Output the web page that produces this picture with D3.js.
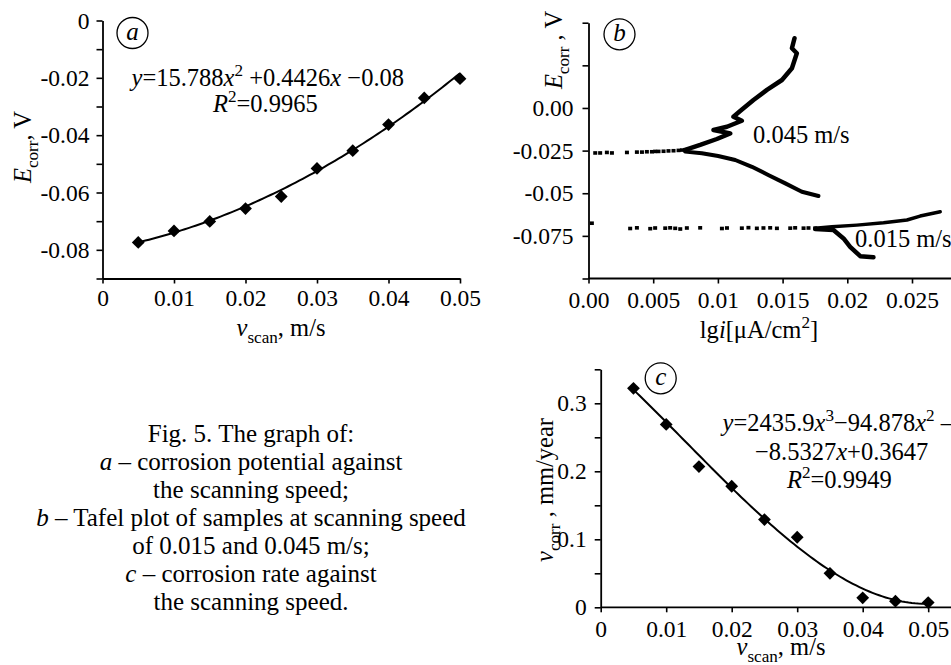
<!DOCTYPE html>
<html>
<head>
<meta charset="utf-8">
<script src="https://cdn.jsdelivr.net/npm/d3@7"></script>
<style>
body { margin: 0; background: #fff; }
svg { display: block; }
text { font-family: "Liberation Serif", "Times New Roman", serif; fill: #000; }
</style>
</head>
<body>
<svg id="fig" width="951" height="665"></svg>
<script>
// panel a and c: scanning speed, m/s
var scanSpeed = [0.005, 0.01, 0.015, 0.02, 0.025, 0.03, 0.035, 0.04, 0.045, 0.05];
var corrPotential = [-0.0774, -0.0734, -0.0701, -0.0656, -0.0614, -0.0516, -0.0454, -0.0363, -0.0270, -0.0203];
var corrRate = [0.322, 0.269, 0.207, 0.178, 0.129, 0.103, 0.050, 0.014, 0.009, 0.007];

// trend line coefficients, highest power first (as printed on the chart)
var fitPotential = [15.788, 0.4426, -0.08];
var fitRate = [2435.9, -94.878, -8.5327, 0.3647];

// panel b: Tafel plot, [lg i, E]
var tafel045Dots = [[0.00052, -0.0265], [0.0009, -0.0265], [0.00142, -0.0262], [0.00181, -0.0265], [0.00297, -0.0262],
  [0.00374, -0.026], [0.00413, -0.026], [0.00451, -0.0258], [0.0049, -0.0258], [0.00515, -0.0256], [0.00541, -0.0256],
  [0.0058, -0.0255], [0.00618, -0.0253], [0.00657, -0.0252], [0.00696, -0.025], [0.00722, -0.0248], [0.00747, -0.0246]];
var tafel045Upper = [[0.00747, -0.0246], [0.00863, -0.0217], [0.00992, -0.0182], [0.01095, -0.0149], [0.00966, -0.0129],
  [0.0107, -0.011], [0.01185, -0.0075], [0.0112, -0.0051], [0.01172, -0.0018], [0.01275, 0.0047], [0.01379, 0.0106],
  [0.01495, 0.0164], [0.01572, 0.0233], [0.0161, 0.0321], [0.01572, 0.035], [0.01592, 0.0409]];
var tafel045Lower = [[0.00747, -0.0256], [0.00876, -0.0266], [0.01002, -0.0282], [0.01134, -0.0305], [0.01263, -0.0345],
  [0.01389, -0.0393], [0.01521, -0.0442], [0.01649, -0.0491], [0.01777, -0.0516]];
var tafel015Dots = [[0.00026, -0.0677], [0.00322, -0.0708], [0.00374, -0.0704], [0.00477, -0.0709], [0.00515, -0.0705],
  [0.00593, -0.0706], [0.00631, -0.0704], [0.0067, -0.0707], [0.00709, -0.0711], [0.0076, -0.0705], [0.00863, -0.0704],
  [0.01031, -0.0708], [0.0107, -0.0705], [0.01185, -0.0706], [0.01236, -0.0703], [0.01301, -0.0707], [0.01352, -0.0705],
  [0.01404, -0.0704], [0.01456, -0.0707], [0.01559, -0.0706], [0.01597, -0.0704], [0.01662, -0.0706], [0.017, -0.0705],
  [0.01752, -0.0706]];
var tafel015Upper = [[0.01752, -0.0706], [0.01881, -0.0697], [0.02074, -0.0687], [0.0228, -0.0673], [0.02461, -0.0657],
  [0.02563, -0.0634], [0.02718, -0.0609]];
var tafel015Lower = [[0.01752, -0.071], [0.01893, -0.0716], [0.01971, -0.0765], [0.02022, -0.0814], [0.021, -0.0869],
  [0.02202, -0.0876]];

// ticks and labels
var ticksA_x = [0, 0.01, 0.02, 0.03, 0.04, 0.05];
var labelsA_x = ['0', '0.01', '0.02', '0.03', '0.04', '0.05'];
var ticksA_y = [0, -0.01, -0.02, -0.03, -0.04, -0.05, -0.06, -0.07, -0.08, -0.09];
var labelsA_y = ['0', '', '-0.02', '', '-0.04', '', '-0.06', '', '-0.08', ''];
var ticksB_x = [0, 0.005, 0.01, 0.015, 0.02, 0.025];
var labelsB_x = ['0.00', '0.005', '0.01', '0.015', '0.02', '0.025'];
var ticksB_y = [0.05, 0.025, 0, -0.025, -0.05, -0.075, -0.1];
var labelsB_y = ['', '', '0.00', '-0.025', '-0.05', '-0.075', ''];
var ticksC_x = [0, 0.01, 0.02, 0.03, 0.04, 0.05];
var labelsC_x = ['0', '0.01', '0.02', '0.03', '0.04', '0.05'];
var ticksC_y = [0, 0.05, 0.1, 0.15, 0.2, 0.25, 0.3, 0.35];
var labelsC_y = ['0', '', '0.1', '', '0.2', '', '0.3', ''];

var caption = [
  [{t: 'Fig. 5. The graph of:'}],
  [{t: 'a', it: true}, {t: ' \u2013 corrosion potential against'}],
  [{t: 'the scanning speed;'}],
  [{t: 'b', it: true}, {t: ' \u2013 Tafel plot of samples at scanning speed'}],
  [{t: 'of 0.015 and 0.045 m/s;'}],
  [{t: 'c', it: true}, {t: ' \u2013 corrosion rate against'}],
  [{t: 'the scanning speed.'}]
];

var svg = d3.select('#fig');
var tickSize = 23.5;
var textSize = 24.5;

var polyval = function(c, x) {
  return c.reduce(function(acc, k) { return acc * x + k; }, 0);
};

var rich = function(g, x, y, parts, size, anchor, rotate) {
  var t = g.append('text')
    .attr('x', x)
    .attr('y', y)
    .attr('font-size', size)
    .attr('text-anchor', anchor || 'start');
  if (rotate) {
    t.attr('transform', 'rotate(-90,' + x + ',' + y + ')');
  }
  var shift = 0;
  parts.forEach(function(p) {
    var s = t.append('tspan').text(p.t);
    var target = p.sub ? size * 0.3 : (p.sup ? -size * 0.4 : 0);
    if (target !== shift) {
      s.attr('dy', target - shift);
      shift = target;
    }
    if (p.sub || p.sup) s.attr('font-size', size * 0.7);
    if (p.it) s.attr('font-style', 'italic');
  });
  return t;
};

var styleAxis = function(g) {
  g.select('.domain').attr('stroke', '#000').attr('stroke-width', 1.8);
  g.selectAll('.tick line').attr('stroke', '#000').attr('stroke-width', 1.6);
  g.selectAll('.tick text')
    .attr('font-family', '"Liberation Serif", "Times New Roman", serif')
    .attr('font-size', tickSize)
    .attr('fill', '#000');
};

var circleLabel = function(cx, cy, letter) {
  svg.append('circle')
    .attr('cx', cx)
    .attr('cy', cy)
    .attr('r', 15.5)
    .attr('fill', 'none')
    .attr('stroke', '#000')
    .attr('stroke-width', 1.3);
  svg.append('text')
    .attr('x', cx)
    .attr('y', cy + 7)
    .attr('text-anchor', 'middle')
    .attr('font-size', 25)
    .attr('font-style', 'italic')
    .text(letter);
};

var diamond = d3.symbol(d3.symbolSquare, 82);

// ---------- panel a ----------
var drawPanelA = function() {
  var x = d3.scaleLinear().domain([0, 0.05]).range([102.5, 460]);
  var y = d3.scaleLinear().domain([-0.09, 0]).range([278.5, 20.5]);

  svg.append('g')
    .attr('transform', 'translate(0,' + y(-0.09) + ')')
    .call(d3.axisBottom(x).tickValues(ticksA_x).tickSize(5).tickPadding(6).tickSizeOuter(0)
      .tickFormat(function(d, i) { return labelsA_x[i]; }))
    .call(styleAxis);

  svg.append('g')
    .attr('transform', 'translate(' + x(0) + ',0)')
    .call(d3.axisLeft(y).tickValues(ticksA_y).tickSize(6).tickPadding(7).tickSizeOuter(0)
      .tickFormat(function(d, i) { return labelsA_y[i]; }))
    .call(styleAxis);

  var fit = d3.range(0.005, 0.05001, 0.0005).map(function(v) { return [v, polyval(fitPotential, v)]; });
  svg.append('path')
    .datum(fit)
    .attr('fill', 'none')
    .attr('stroke', '#000')
    .attr('stroke-width', 2)
    .attr('d', d3.line().x(function(d) { return x(d[0]); }).y(function(d) { return y(d[1]); }));

  svg.selectAll('.ptA')
    .data(scanSpeed)
    .enter().append('path')
    .attr('class', 'ptA')
    .attr('d', diamond)
    .attr('fill', '#000')
    .attr('transform', function(d, i) { return 'translate(' + x(d) + ',' + y(corrPotential[i]) + ') rotate(45)'; });

  circleLabel(132.5, 33, 'a');

  rich(svg, 131.5, 86, [{t: 'y', it: true}, {t: '=15.788'}, {t: 'x', it: true}, {t: '2', sup: true},
    {t: ' +0.4426'}, {t: 'x', it: true}, {t: ' \u22120.08'}], textSize);
  rich(svg, 213, 112, [{t: 'R', it: true}, {t: '2', sup: true}, {t: '=0.9965'}], textSize);

  rich(svg, 31, 147, [{t: 'E', it: true}, {t: 'corr', sub: true}, {t: ', V'}], textSize, 'middle', true);
  rich(svg, 281, 336, [{t: 'v', it: true}, {t: 'scan', sub: true}, {t: ', m/s'}], textSize, 'middle');
};

// ---------- panel b ----------
var drawPanelB = function() {
  var x = d3.scaleLinear().domain([0, 0.005]).range([588.5, 653.2]);
  var y = d3.scaleLinear().domain([-0.1, 0.05]).range([278.5, 22.7]);

  svg.append('g')
    .attr('transform', 'translate(0,' + y(-0.1) + ')')
    .call(d3.axisBottom(x).tickValues(ticksB_x).tickSize(5).tickPadding(8).tickSizeOuter(0)
      .tickFormat(function(d, i) { return labelsB_x[i]; }))
    .call(styleAxis)
    .select('.domain').attr('d', 'M' + x(0) + ',0H951');

  svg.append('g')
    .attr('transform', 'translate(' + x(0) + ',0)')
    .call(d3.axisLeft(y).tickValues(ticksB_y).tickSize(6).tickPadding(9).tickSizeOuter(0)
      .tickFormat(function(d, i) { return labelsB_y[i]; }))
    .call(styleAxis);

  var line = d3.line().x(function(d) { return x(d[0]); }).y(function(d) { return y(d[1]); });
  var branch = function(data, w) {
    svg.append('path')
      .datum(data)
      .attr('fill', 'none')
      .attr('stroke', '#000')
      .attr('stroke-width', w)
      .attr('stroke-linejoin', 'round')
      .attr('stroke-linecap', 'round')
      .attr('d', line);
  };
  branch(tafel045Upper, 4.5);
  branch(tafel045Lower, 4);
  branch(tafel015Upper, 3.5);
  branch(tafel015Lower, 4.5);

  var dots = tafel045Dots.concat(tafel015Dots);
  svg.selectAll('.ptB')
    .data(dots)
    .enter().append('rect')
    .attr('class', 'ptB')
    .attr('x', function(d) { return x(d[0]) - 2; })
    .attr('y', function(d) { return y(d[1]) - 2; })
    .attr('width', 4)
    .attr('height', 3.6)
    .attr('fill', '#000');

  circleLabel(619.5, 34.3, 'b');

  rich(svg, 753, 143, [{t: '0.045 m/s'}], textSize);
  rich(svg, 855, 247, [{t: '0.015 m/s'}], textSize);

  rich(svg, 562, 50, [{t: 'E', it: true}, {t: 'corr', sub: true}, {t: ' , V'}], textSize, 'middle', true);
  rich(svg, 759, 338, [{t: 'lg'}, {t: 'i', it: true}, {t: '[\u03bcA/cm'}, {t: '2', sup: true}, {t: ']'}], textSize, 'middle');
};

// ---------- panel c ----------
var drawPanelC = function() {
  var x = d3.scaleLinear().domain([0, 0.05]).range([600.7, 928.2]);
  var y = d3.scaleLinear().domain([0, 0.35]).range([607.3, 369.3]);

  svg.append('g')
    .attr('transform', 'translate(0,' + y(0) + ')')
    .call(d3.axisBottom(x).tickValues(ticksC_x).tickSize(5).tickPadding(8).tickSizeOuter(0)
      .tickFormat(function(d, i) { return labelsC_x[i]; }))
    .call(styleAxis)
    .select('.domain').attr('d', 'M' + x(0) + ',0H951');

  svg.append('g')
    .attr('transform', 'translate(' + x(0) + ',0)')
    .call(d3.axisLeft(y).tickValues(ticksC_y).tickSize(6).tickPadding(8).tickSizeOuter(0)
      .tickFormat(function(d, i) { return labelsC_y[i]; }))
    .call(styleAxis);

  var fit = d3.range(0.005, 0.05001, 0.0005).map(function(v) { return [v, polyval(fitRate, v)]; });
  svg.append('path')
    .datum(fit)
    .attr('fill', 'none')
    .attr('stroke', '#000')
    .attr('stroke-width', 2)
    .attr('d', d3.line().x(function(d) { return x(d[0]); }).y(function(d) { return y(d[1]); }));

  svg.selectAll('.ptC')
    .data(scanSpeed)
    .enter().append('path')
    .attr('class', 'ptC')
    .attr('d', diamond)
    .attr('fill', '#000')
    .attr('transform', function(d, i) { return 'translate(' + x(d) + ',' + y(corrRate[i]) + ') rotate(45)'; });

  circleLabel(660.7, 378.3, 'c');

  rich(svg, 722.5, 431, [{t: 'y', it: true}, {t: '=2435.9'}, {t: 'x', it: true}, {t: '3', sup: true},
    {t: '\u221294.878'}, {t: 'x', it: true}, {t: '2', sup: true}, {t: ' \u2013'}], textSize);
  rich(svg, 755, 460, [{t: '\u22128.5327'}, {t: 'x', it: true}, {t: '+0.3647'}], textSize);
  rich(svg, 787, 488, [{t: 'R', it: true}, {t: '2', sup: true}, {t: '=0.9949'}], textSize);

  rich(svg, 553, 490, [{t: 'v', it: true}, {t: 'corr', sub: true}, {t: ' , mm/year'}], textSize, 'middle', true);
  rich(svg, 781, 655, [{t: 'v', it: true}, {t: 'scan', sub: true}, {t: ', m/s'}], textSize, 'middle');
};

var drawCaption = function() {
  caption.forEach(function(parts, i) {
    rich(svg, 251, 442 + i * 28, parts, 25, 'middle');
  });
};

drawPanelA();
drawPanelB();
drawPanelC();
drawCaption();
</script>
</body>
</html>
